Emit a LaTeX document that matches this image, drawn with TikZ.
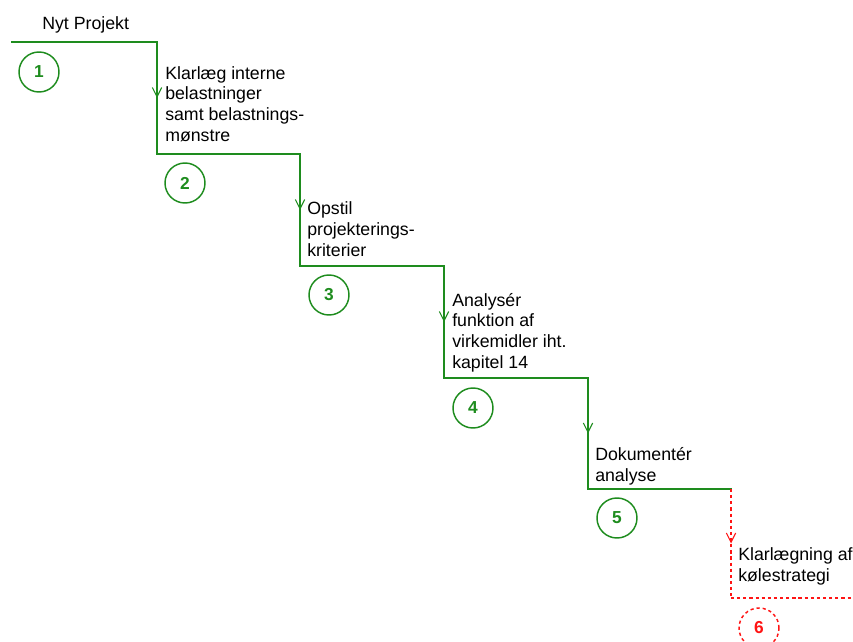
\documentclass[tikz,border=0pt]{standalone}
\usepackage{fontspec}
\setmainfont{Liberation Sans}
\usetikzlibrary{arrows.meta,decorations.markings}
\definecolor{stepgreen}{RGB}{30,140,30}
\definecolor{stepred}{RGB}{255,20,20}
\tikzset{
  x=0.75pt, y=-0.75pt,
  stepline/.style={draw=stepgreen, line width=1.5pt},
  redline/.style={draw=stepred, line width=1.3pt, dash pattern=on 2.4pt off 2.2pt},
  midarrow/.style={postaction={decorate}, decoration={markings, mark=at position 0.5 with {\arrow[line width=0.8pt]{Straight Barb[length=7pt,width=7pt]}}}},
  label/.style={anchor=base west, inner sep=0pt, align=left, font=\fontsize{13.3pt}{15.4pt}\selectfont, text=black},
  numcircle/.style={circle, draw=stepgreen, line width=1.1pt, minimum size=30pt, inner sep=0pt, text=stepgreen, font=\bfseries\fontsize{13pt}{14pt}\selectfont},
  rednum/.style={numcircle, draw=stepred, text=stepred, dash pattern=on 2.4pt off 2.2pt}
}
\begin{document}
\begin{tikzpicture}
\useasboundingbox (0,0) rectangle (853,642);
% step corners
\coordinate (s0) at (12,42);
\coordinate (a1) at (157,42);
\coordinate (b1) at (157,154);
\coordinate (a2) at (300,154);
\coordinate (b2) at (300,266);
\coordinate (a3) at (444,266);
\coordinate (b3) at (444,378);
\coordinate (a4) at (588,378);
\coordinate (b4) at (588,489);
\coordinate (a5) at (731,489);
\coordinate (b5) at (731,598);
\coordinate (e5) at (853,598);
% green steps
\draw[stepline, line cap=rect] (s0) -- (a1);
\draw[stepline, midarrow] (a1) -- (b1);
\draw[stepline, line cap=rect] (b1) -- (a2);
\draw[stepline, midarrow] (a2) -- (b2);
\draw[stepline, line cap=rect] (b2) -- (a3);
\draw[stepline, midarrow] (a3) -- (b3);
\draw[stepline, line cap=rect] (b3) -- (a4);
\draw[stepline, midarrow] (a4) -- (b4);
\draw[stepline, line cap=rect] (b4) -- (a5);
% red step
\draw[redline, midarrow] (a5) -- (b5);
\draw[redline] (b5) -- (e5);
% texts (base anchor = baseline of last line)
\node[label] (t0) at (42,30) {Nyt Projekt};
\node[label] (t1) at (165,141) {Klarlæg interne\\belastninger\\samt belastnings-\\mønstre};
\node[label] (t2) at (307,256) {Opstil\\projekterings-\\kriterier};
\node[label] (t3) at (452,368) {Analysér\\funktion af\\virkemidler iht.\\kapitel 14};
\node[label] (t4) at (595,481) {Dokumentér\\analyse};
\node[label] (t5) at (738,581) {Klarlægning af\\kølestrategi};
% numbered circles
\node[numcircle] (c1) at (39,72) {1};
\node[numcircle] (c2) at (185,183) {2};
\node[numcircle] (c3) at (329,295) {3};
\node[numcircle] (c4) at (473,408) {4};
\node[numcircle] (c5) at (617,518) {5};
\node[rednum] (c6) at (759,628) {6};
\end{tikzpicture}
\end{document}
